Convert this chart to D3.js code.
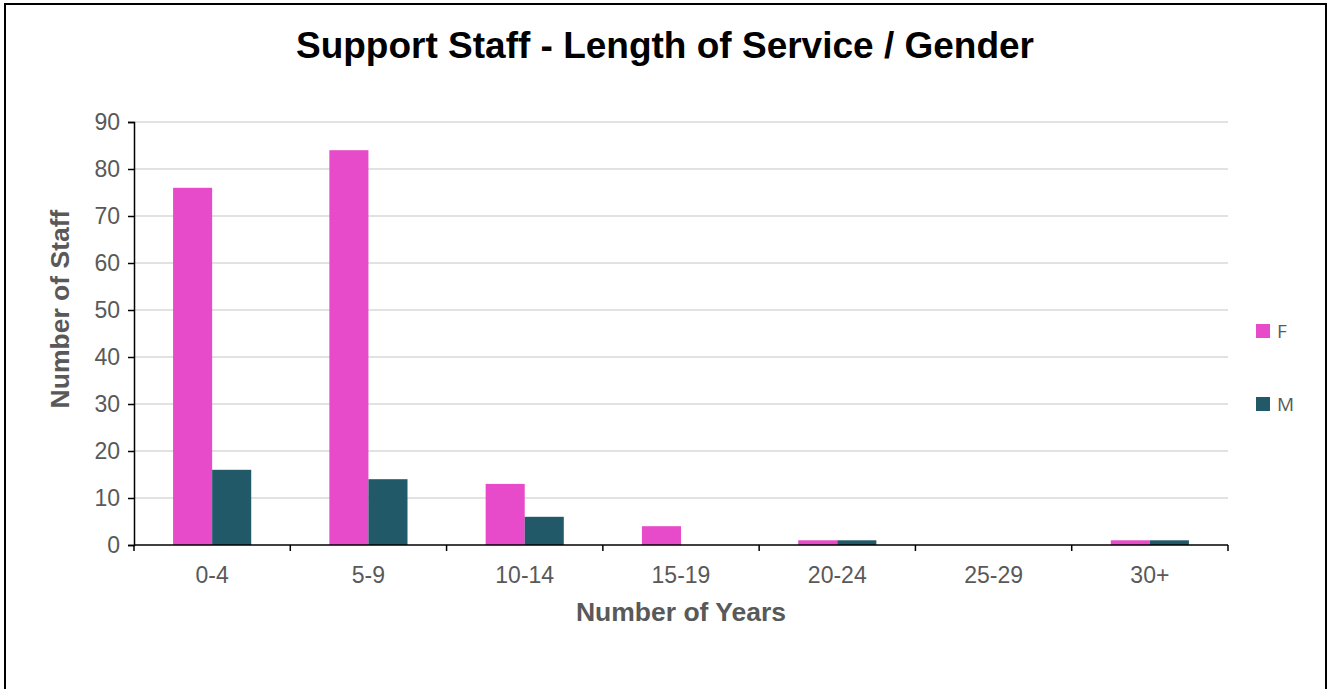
<!DOCTYPE html>
<html>
<head>
<meta charset="utf-8">
<script src="https://cdn.jsdelivr.net/npm/d3@7"></script>
<style>
  html, body { margin: 0; padding: 0; background: #fff; }
  svg { display: block; }
</style>
</head>
<body>
<svg id="chart" width="1330" height="689"></svg>
<script>
// Length-of-service bands and head counts by gender
const categories = ["0-4", "5-9", "10-14", "15-19", "20-24", "25-29", "30+"];
const seriesNames = ["F", "M"];
const femaleValues = [76, 84, 13, 4, 1, 0, 1];
const maleValues = [16, 14, 6, 0, 1, 0, 1];
const yTicks = [0, 10, 20, 30, 40, 50, 60, 70, 80, 90];
const colors = { F: "#e84bc9", M: "#215968" };

const svg = d3.select("#chart");
const font = "'Liberation Sans', Arial, sans-serif";

// outer frame
svg.append("rect")
  .attr("x", 5).attr("y", 4).attr("width", 1321).attr("height", 700)
  .attr("fill", "#fff").attr("stroke", "#000").attr("stroke-width", 2);

const plot = { left: 134, right: 1228, top: 122, bottom: 545 };

const x = d3.scaleBand().domain(categories)
  .range([plot.left, plot.right]).paddingInner(0.5).paddingOuter(0.25);
const x1 = d3.scaleBand().domain(seriesNames).range([0, x.bandwidth()]);
const y = d3.scaleLinear().domain([0, 90]).range([plot.bottom, plot.top]);

// gridlines
svg.append("g").selectAll("line").data(yTicks.filter(d => d > 0)).join("line")
  .attr("x1", plot.left).attr("x2", plot.right)
  .attr("y1", d => y(d)).attr("y2", d => y(d))
  .attr("stroke", "#d9d9d9").attr("stroke-width", 1.3);

// bars
const rows = categories.map((c, i) => ({ cat: c, F: femaleValues[i], M: maleValues[i] }));
const groups = svg.append("g").selectAll("g").data(rows).join("g")
  .attr("transform", d => `translate(${x(d.cat)},0)`);
groups.selectAll("rect")
  .data(d => seriesNames.map(s => ({ s, v: d[s] })))
  .join("rect")
  .attr("x", d => x1(d.s))
  .attr("width", x1.bandwidth())
  .attr("y", d => y(d.v))
  .attr("height", d => y(0) - y(d.v))
  .attr("fill", d => colors[d.s]);

// y axis
const yAxis = svg.append("g").attr("transform", `translate(${plot.left},0)`)
  .call(d3.axisLeft(y).tickValues(yTicks).tickSize(6).tickPadding(8));
yAxis.select(".domain").attr("stroke", "#000").attr("stroke-width", 1.5);
yAxis.selectAll(".tick line").attr("stroke", "#000").attr("stroke-width", 1.5);
yAxis.selectAll(".tick text")
  .attr("font-family", font).attr("font-size", 23).attr("fill", "#595959");

// x axis with ticks at band boundaries
const xAxis = svg.append("g").attr("transform", `translate(0,${plot.bottom})`);
xAxis.append("line").attr("x1", plot.left).attr("x2", plot.right)
  .attr("stroke", "#000").attr("stroke-width", 1.5);
const step = x.step();
const boundaries = d3.range(categories.length + 1).map(i => plot.left + i * step);
xAxis.selectAll(".bt").data(boundaries).join("line")
  .attr("x1", d => d).attr("x2", d => d).attr("y1", 0).attr("y2", 6)
  .attr("stroke", "#000").attr("stroke-width", 1.5);
xAxis.selectAll("text").data(categories).join("text")
  .attr("x", d => x(d) + x.bandwidth() / 2)
  .attr("y", 38)
  .attr("text-anchor", "middle")
  .attr("font-family", font).attr("font-size", 23).attr("fill", "#595959")
  .text(d => d);

// titles
svg.append("text")
  .attr("x", 665).attr("y", 58).attr("text-anchor", "middle")
  .attr("font-family", font).attr("font-size", 37).attr("font-weight", "bold")
  .attr("fill", "#000")
  .text("Support Staff - Length of Service / Gender");

svg.append("text")
  .attr("x", 681).attr("y", 621).attr("text-anchor", "middle")
  .attr("font-family", font).attr("font-size", 26.5).attr("font-weight", "bold")
  .attr("fill", "#595959")
  .text("Number of Years");

svg.append("text")
  .attr("transform", "translate(69,309) rotate(-90)")
  .attr("text-anchor", "middle")
  .attr("font-family", font).attr("font-size", 26.5).attr("font-weight", "bold")
  .attr("fill", "#595959")
  .text("Number of Staff");

// legend
const legendY = { F: 331, M: 404 };
const legend = svg.append("g").selectAll("g").data(seriesNames).join("g")
  .attr("transform", d => `translate(1256,${legendY[d]})`);
legend.append("rect").attr("x", 0).attr("y", -7).attr("width", 14).attr("height", 14)
  .attr("fill", d => colors[d]);
legend.append("text").attr("x", 21).attr("y", 7)
  .attr("font-family", "'Open Sans', 'Noto Sans', sans-serif").attr("font-size", 19)
  .attr("fill", "#595959")
  .text(d => d);
</script>
</body>
</html>
